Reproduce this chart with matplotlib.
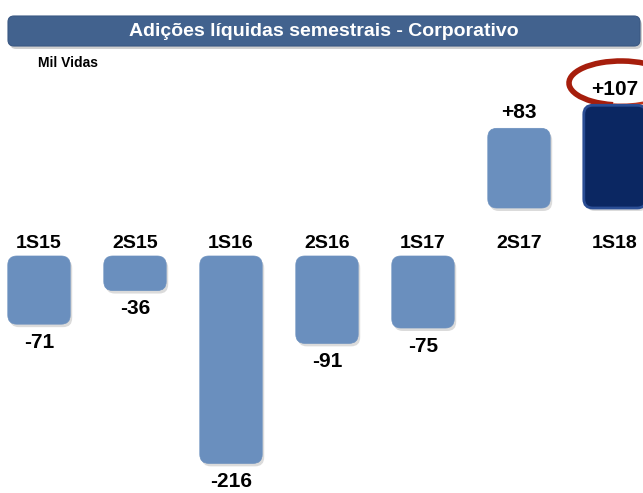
import matplotlib
matplotlib.use("Agg")
import matplotlib.pyplot as plt
from matplotlib.patches import FancyBboxPatch, Arc

categories = ["1S15", "2S15", "1S16", "2S16", "1S17", "2S17", "1S18"]
values = [-71, -36, -216, -91, -75, 83, 107]
value_labels = ["-71", "-36", "-216", "-91", "-75", "+83", "+107"]
title = "Adições líquidas semestrais - Corporativo"
unit_label = "Mil Vidas"

plt.rcParams['font.family'] = ['Liberation Sans', 'DejaVu Sans']

W, H = 643, 493
fig = plt.figure(figsize=(W / 100, H / 100), dpi=100)

# decoration axes in pixel coordinates
deco = fig.add_axes([0, 0, 1, 1])
deco.set_xlim(0, W)
deco.set_ylim(H, 0)
deco.axis("off")

# data axes: 1 x-unit = 96 px, 1 y-unit = S px
S = 0.96
ax = fig.add_axes([0, 0, 1, 1])
ax.patch.set_alpha(0)
X0, DX = 39, 96
ax.set_xlim(-X0 / DX, (W - X0) / DX)
ax.set_ylim(-(H - 256) / S, 256 / S)
ax.axis("off")

GAP = 50
LIGHT = "#6A8FBE"
DARK = "#0B2762"
xs = list(range(len(categories)))
bottoms = [GAP if v > 0 else 0 for v in values]
colors = [LIGHT] * (len(values) - 1) + [DARK]
bars = ax.bar(xs, values, width=0.65, bottom=bottoms, color=colors)

R = 9  # px
ASP = DX / S
for b, c, v in zip(bars, colors, values):
    x, y = b.get_x(), b.get_y()
    w, h = b.get_width(), b.get_height()
    if h < 0:
        y, h = y + h, -h
    b.set_visible(False)
    # shadow
    sh = FancyBboxPatch((x + 2 / DX, y - 3 / S), w, h,
                        boxstyle=f"round,pad=0,rounding_size={R / DX}",
                        mutation_aspect=ASP, facecolor="#9a9a9a", edgecolor="none",
                        alpha=0.35, zorder=1)
    ax.add_patch(sh)
    ec = "#2a4d94" if c == DARK else c
    p = FancyBboxPatch((x, y), w, h,
                       boxstyle=f"round,pad=0,rounding_size={R / DX}",
                       mutation_aspect=ASP, facecolor=c, edgecolor=ec,
                       linewidth=2.0 if c == DARK else 0.5, zorder=2)
    ax.add_patch(p)

# value labels
for i, (v, lab, bt) in enumerate(zip(values, value_labels, bottoms)):
    if v > 0:
        ax.text(i, bt + v + 16 / S, lab, ha="center", va="center",
                fontsize=15, fontweight="bold", color="black", zorder=5)
    else:
        ax.text(i, v - 18 / S, lab, ha="center", va="center",
                fontsize=15, fontweight="bold", color="black", zorder=5)

# category labels
for i, cat in enumerate(categories):
    ax.text(i, 13 / S, cat, ha="center", va="center", fontsize=14,
            fontweight="bold", color="black", zorder=5)

# banner
shadow = FancyBboxPatch((10, 19), 632, 30, boxstyle="round,pad=0,rounding_size=6",
                        facecolor="#b0b0b0", edgecolor="none", alpha=0.6, zorder=1)
deco.add_patch(shadow)
banner = FancyBboxPatch((8, 16), 632, 30, boxstyle="round,pad=0,rounding_size=6",
                        facecolor="#42628E", edgecolor="#3a5883", linewidth=0.8, zorder=2)
deco.add_patch(banner)
deco.text(324, 31.5, title, ha="center", va="center", fontsize=14,
          fontweight="bold", color="white", zorder=3)
deco.text(38, 63, unit_label, ha="left", va="center", fontsize=10,
          fontweight="bold", color="black", zorder=3)

# red highlight ellipse
deco.add_patch(Arc((621, 83), 104, 44, theta1=110, theta2=320,
                   color="#A61E0C", linewidth=4.0, zorder=4))
deco.add_patch(Arc((621, 83), 104, 44, theta1=320, theta2=470,
                   color="#C2351B", linewidth=2.0, zorder=4))

fig.savefig("out.png", dpi=100)
